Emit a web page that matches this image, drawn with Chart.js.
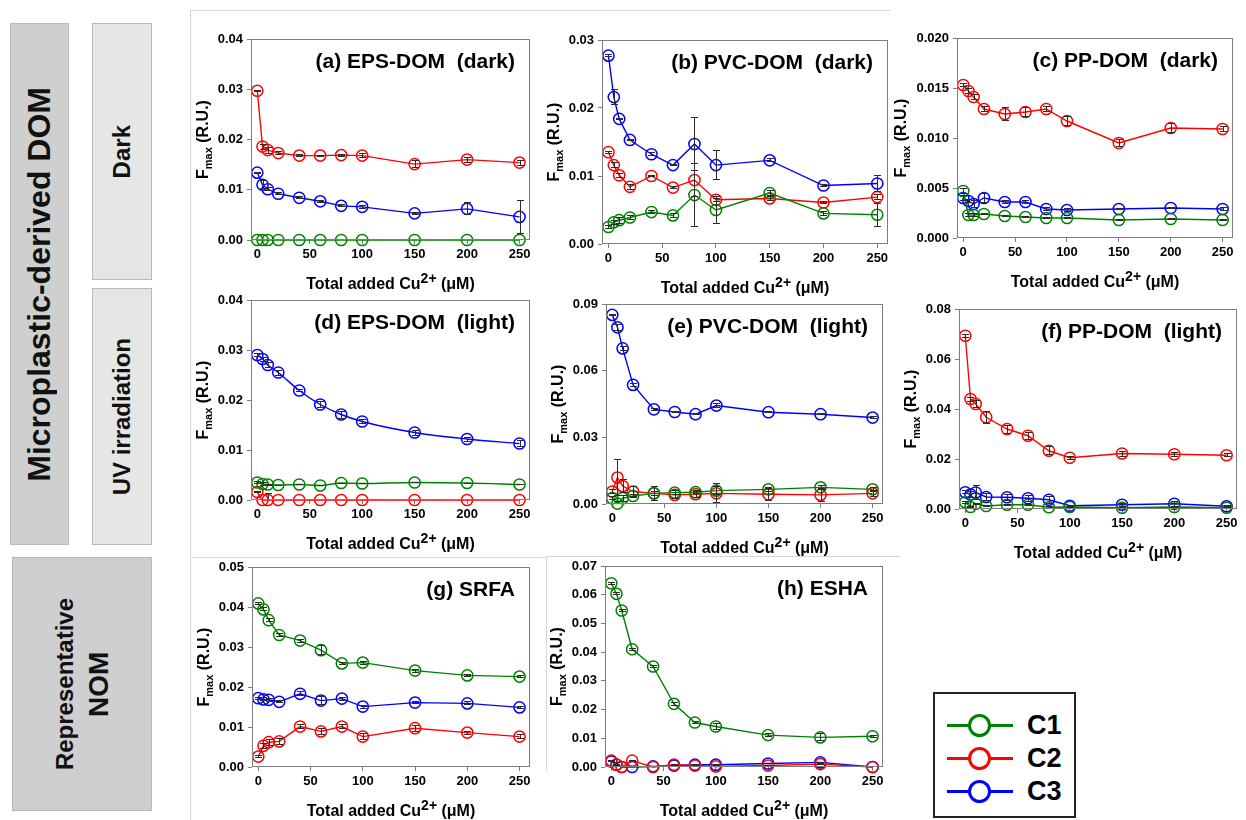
<!DOCTYPE html>
<html>
<head>
<meta charset="utf-8">
<title>Cu2+ quenching of PARAFAC components</title>
<script src="https://cdn.jsdelivr.net/npm/chart.js@4.4.0/dist/chart.umd.min.js"></script>
<style>
  body {
    margin: 0;
    width: 1246px;
    height: 820px;
    background: #fff;
    position: relative;
    overflow: hidden;
    font-family: "Liberation Sans", Arial, sans-serif;
  }
  canvas.panel { position: absolute; }
  .rule { position: absolute; background: #d6d6d6; }
  .box {
    position: absolute;
    box-sizing: border-box;
    border: 1px solid #b9b9b9;
    display: flex;
    align-items: center;
    justify-content: center;
  }
  .box > span {
    writing-mode: vertical-rl;
    transform: rotate(180deg);
    font-weight: bold;
    color: #111;
    text-align: center;
    white-space: nowrap;
  }
  .dark-box { background: #d0cfcf; }
  .light-box { background: #e6e6e6; }
  #legend {
    position: absolute;
    left: 933px;
    top: 692px;
    width: 143px;
    height: 126px;
    box-sizing: border-box;
    border: 2px solid #222;
    background: #fff;
  }
  .item { position: absolute; left: 0; width: 140px; height: 30px; }
  .item .ln { position: absolute; left: 12px; top: 14px; width: 66px; height: 3px; }
  .item .mk {
    position: absolute; left: 33px; top: 4px;
    width: 23px; height: 23px; box-sizing: border-box;
    border: 3px solid; border-radius: 50%;
  }
  .item .tx {
    position: absolute; left: 92px; top: 0; line-height: 30px;
    font-size: 27px; font-weight: bold; color: #000;
  }
</style>
</head>
<body>

<div class="rule" style="left:190px; top:10px; width:700px; height:1px"></div>
<div class="rule" style="left:190px; top:10px; width:1px; height:810px"></div>
<div class="rule" style="left:190px; top:557px; width:356px; height:1px"></div>
<div class="rule" style="left:546px; top:556px; width:354px; height:1px"></div>
<div class="rule" style="left:546px; top:556px; width:1px; height:214px"></div>

<div class="box dark-box" style="left:10px; top:23px; width:59px; height:522px">
  <span style="font-size:32px">Microplastic-derived DOM</span>
</div>
<div class="box light-box" style="left:92px; top:23px; width:60px; height:257px">
  <span style="font-size:24px">Dark</span>
</div>
<div class="box light-box" style="left:92px; top:288px; width:60px; height:257px">
  <span style="font-size:24px">UV irradiation</span>
</div>
<div class="box dark-box" style="left:12px; top:557px; width:140px; height:254px">
  <span style="font-size:24px; line-height:34px">Representative<br><b style="font-size:28px">NOM</b></span>
</div>

<div id="legend"></div>

<script>
// Cu2+ titration points (µM)
const cuAdded = [0, 5, 10, 20, 40, 60, 80, 100, 150, 200, 250];
const xTicks = [0, 50, 100, 150, 200, 250];

// (a) EPS-DOM, dark
const epsDarkC1 = [0, 0, 0, 0, 0, 0, 0, 0, 0, 0, 0];
const epsDarkC2 = [0.0297, 0.0186, 0.0179, 0.0173, 0.0168, 0.0168, 0.0169, 0.0168, 0.0151, 0.0160, 0.0154];
const epsDarkC3 = [0.0134, 0.0110, 0.0101, 0.0092, 0.0084, 0.0077, 0.0068, 0.0066, 0.0053, 0.0062, 0.0046];
const epsDarkC1Err = [0, 0, 0, 0, 0, 0, 0, 0, 0, 0, 0];
const epsDarkC2Err = [0.0002, 0.0006, 0.0007, 0.0004, 0.0003, 0.0002, 0.0003, 0.0005, 0.0008, 0.0006, 0.0006];
const epsDarkC3Err = [0.0002, 0.0009, 0.0004, 0.0003, 0.0003, 0.0003, 0.0003, 0.0004, 0.0003, 0.0013, 0.0034];
const epsDarkTicks = [0, 0.01, 0.02, 0.03, 0.04];

// (b) PVC-DOM, dark
const pvcDarkC1 = [0.0025, 0.0032, 0.0035, 0.0039, 0.0047, 0.0042, 0.0072, 0.0050, 0.0075, 0.0045, 0.0043];
const pvcDarkC2 = [0.0135, 0.0116, 0.0101, 0.0084, 0.0100, 0.0083, 0.0094, 0.0065, 0.0067, 0.0061, 0.0069];
const pvcDarkC3 = [0.0277, 0.0216, 0.0184, 0.0153, 0.0132, 0.0116, 0.0147, 0.0116, 0.0123, 0.0086, 0.0089];
const pvcDarkC1Err = [0.0003, 0.0004, 0.0005, 0.0004, 0.0003, 0.0004, 0.0047, 0.0021, 0.0004, 0.0004, 0.0018];
const pvcDarkC2Err = [0.0002, 0.0004, 0.0004, 0.0004, 0.0002, 0.0002, 0.0025, 0.0003, 0.0004, 0.0002, 0.0004];
const pvcDarkC3Err = [0.0002, 0.0012, 0.0002, 0.0002, 0.0003, 0.0002, 0.0040, 0.0022, 0.0003, 0.0002, 0.0012];
const pvcDarkTicks = [0, 0.01, 0.02, 0.03];

// (c) PP-DOM, dark
const ppDarkC1 = [0.0047, 0.0023, 0.0023, 0.0024, 0.0022, 0.0021, 0.0020, 0.0020, 0.0018, 0.0019, 0.0018];
const ppDarkC2 = [0.0153, 0.0147, 0.0141, 0.0129, 0.0124, 0.0126, 0.0129, 0.0117, 0.0095, 0.0110, 0.0109];
const ppDarkC3 = [0.0040, 0.0037, 0.0034, 0.0040, 0.0036, 0.0036, 0.0029, 0.0028, 0.0029, 0.0030, 0.0029];
const ppDarkC1Err = [0.0003, 0.0002, 0.0002, 0.0001, 0.0001, 0.0001, 0.0001, 0.0001, 0.0001, 0.0001, 0.0001];
const ppDarkC2Err = [0.0002, 0.0003, 0.0003, 0.0003, 0.0007, 0.0005, 0.0003, 0.0005, 0.0004, 0.0005, 0.0003];
const ppDarkC3Err = [0.0003, 0.0002, 0.0004, 0.0005, 0.0002, 0.0002, 0.0002, 0.0002, 0.0001, 0.0001, 0.0002];
const ppDarkTicks = [0, 0.005, 0.010, 0.015, 0.020];

// (d) EPS-DOM, UV light
const epsLightC1 = [0.0035, 0.0032, 0.0031, 0.0030, 0.0031, 0.0029, 0.0034, 0.0033, 0.0035, 0.0034, 0.0031];
const epsLightC2 = [0.0016, 0, 0, 0, 0, 0, 0, 0, 0, 0, 0];
const epsLightC3 = [0.0290, 0.0282, 0.0270, 0.0255, 0.0219, 0.0191, 0.0171, 0.0157, 0.0135, 0.0122, 0.0113];
const epsLightC1Err = [0.0003, 0.0004, 0.0002, 0.0001, 0.0001, 0.0001, 0.0001, 0.0001, 0.0001, 0.0001, 0.0001];
const epsLightC2Err = [0.0002, 0.0002, 0.0015, 0, 0, 0, 0, 0, 0, 0, 0];
const epsLightC3Err = [0.0004, 0.0005, 0.0006, 0.0006, 0.0003, 0.0007, 0.0008, 0.0005, 0.0006, 0.0005, 0.0007];
const epsLightTicks = [0, 0.01, 0.02, 0.03, 0.04];

// (e) PVC-DOM, UV light
const pvcLightC1 = [0.0026, 0.0002, 0.0026, 0.0036, 0.0048, 0.0051, 0.0053, 0.0060, 0.0066, 0.0075, 0.0066];
const pvcLightC2 = [0.0056, 0.0119, 0.0081, 0.0056, 0.0048, 0.0041, 0.0044, 0.0048, 0.0044, 0.0041, 0.0048];
const pvcLightC3 = [0.0851, 0.0795, 0.0700, 0.0536, 0.0426, 0.0414, 0.0404, 0.0443, 0.0413, 0.0404, 0.0389];
const pvcLightC1Err = [0.0010, 0.0010, 0.0015, 0.0010, 0.0010, 0.0010, 0.0008, 0.0020, 0.0010, 0.0010, 0.0010];
const pvcLightC2Err = [0.0010, 0.0082, 0.0030, 0.0025, 0.0035, 0.0020, 0.0015, 0.0045, 0.0030, 0.0030, 0.0015];
const pvcLightC3Err = [0.0005, 0.0015, 0.0010, 0.0010, 0.0008, 0.0005, 0.0005, 0.0012, 0.0005, 0.0005, 0.0005];
const pvcLightTicks = [0, 0.03, 0.06, 0.09];

// (f) PP-DOM, UV light
const ppLightC1 = [0.0027, 0.0008, 0.0021, 0.0012, 0.0017, 0.0017, 0.0007, 0.0008, 0.0005, 0.0008, 0.0005];
const ppLightC2 = [0.0693, 0.0440, 0.0420, 0.0367, 0.0320, 0.0293, 0.0233, 0.0205, 0.0222, 0.0219, 0.0215];
const ppLightC3 = [0.0067, 0.0058, 0.0066, 0.0048, 0.0047, 0.0043, 0.0037, 0.0013, 0.0017, 0.0021, 0.0011];
const ppLightC1Err = [0.0005, 0.0005, 0.0005, 0.0005, 0.0005, 0.0005, 0.0005, 0.0005, 0.0005, 0.0005, 0.0005];
const ppLightC2Err = [0.0008, 0.0010, 0.0015, 0.0025, 0.0018, 0.0015, 0.0018, 0.0008, 0.0012, 0.0010, 0.0008];
const ppLightC3Err = [0.0008, 0.0015, 0.0030, 0.0015, 0.0015, 0.0015, 0.0015, 0.0005, 0.0008, 0.0012, 0.0004];
const ppLightTicks = [0, 0.02, 0.04, 0.06, 0.08];

// (g) SRFA
const srfaC1 = [0.0409, 0.0394, 0.0367, 0.0330, 0.0316, 0.0292, 0.0259, 0.0261, 0.0241, 0.0229, 0.0226];
const srfaC2 = [0.0026, 0.0053, 0.0062, 0.0064, 0.0101, 0.0089, 0.0101, 0.0076, 0.0097, 0.0086, 0.0076];
const srfaC3 = [0.0172, 0.0169, 0.0168, 0.0163, 0.0183, 0.0166, 0.0171, 0.0151, 0.0161, 0.0159, 0.0149];
const srfaC1Err = [0.0004, 0.0005, 0.0005, 0.0005, 0.0005, 0.0012, 0.0004, 0.0005, 0.0005, 0.0003, 0.0004];
const srfaC2Err = [0.0003, 0.0008, 0.0009, 0.0009, 0.0007, 0.0008, 0.0006, 0.0009, 0.0009, 0.0005, 0.0006];
const srfaC3Err = [0.0004, 0.0005, 0.0005, 0.0004, 0.0006, 0.0012, 0.0005, 0.0005, 0.0004, 0.0005, 0.0004];
const srfaTicks = [0, 0.01, 0.02, 0.03, 0.04, 0.05];

// (h) ESHA
const eshaC1 = [0.0640, 0.0603, 0.0545, 0.0410, 0.0350, 0.0220, 0.0155, 0.0141, 0.0111, 0.0103, 0.0107];
const eshaC2 = [0.0022, 0.0008, 0.0000, 0.0022, 0.0000, 0.0008, 0.0005, 0.0002, 0.0005, 0.0010, 0.0000];
const eshaC3 = [0.0019, 0.0008, 0.0000, 0.0000, 0.0002, 0.0005, 0.0008, 0.0008, 0.0012, 0.0016, 0.0000];
const eshaC1Err = [0.0005, 0.0005, 0.0006, 0.0005, 0.0006, 0.0006, 0.0005, 0.0012, 0.0006, 0.0014, 0.0005];
const eshaC2Err = [0.0003, 0.0008, 0.0003, 0.0003, 0.0002, 0.0003, 0.0003, 0.0003, 0.0003, 0.0003, 0.0002];
const eshaC3Err = [0.0003, 0.0003, 0.0002, 0.0002, 0.0002, 0.0003, 0.0003, 0.0003, 0.0003, 0.0003, 0.0002];
const eshaTicks = [0, 0.01, 0.02, 0.03, 0.04, 0.05, 0.06, 0.07];

const seriesNames = ["C1", "C2", "C3"];
const seriesColors = ["#008000", "#ff0000", "#0000ff"];

Chart.defaults.font.family = "'Liberation Sans', Arial, sans-serif";

// plot area of each panel on the page: [left, top, right, bottom]
const panels = [
  { title: "(a) EPS-DOM  (dark)", ticks: epsDarkTicks, digits: 2, series: [epsDarkC1, epsDarkC2, epsDarkC3], errors: [epsDarkC1Err, epsDarkC2Err, epsDarkC3Err], area: [251, 39, 530, 240] },
  { title: "(b) PVC-DOM  (dark)", ticks: pvcDarkTicks, digits: 2, series: [pvcDarkC1, pvcDarkC2, pvcDarkC3], errors: [pvcDarkC1Err, pvcDarkC2Err, pvcDarkC3Err], area: [602, 40, 888, 244] },
  { title: "(c) PP-DOM  (dark)", ticks: ppDarkTicks, digits: 3, series: [ppDarkC1, ppDarkC2, ppDarkC3], errors: [ppDarkC1Err, ppDarkC2Err, ppDarkC3Err], area: [957, 38, 1233, 238] },
  { title: "(d) EPS-DOM  (light)", ticks: epsLightTicks, digits: 2, series: [epsLightC1, epsLightC2, epsLightC3], errors: [epsLightC1Err, epsLightC2Err, epsLightC3Err], area: [251, 300, 530, 500], smooth: true },
  { title: "(e) PVC-DOM  (light)", ticks: pvcLightTicks, digits: 2, series: [pvcLightC1, pvcLightC2, pvcLightC3], errors: [pvcLightC1Err, pvcLightC2Err, pvcLightC3Err], area: [606, 304, 883, 504] },
  { title: "(f) PP-DOM  (light)", ticks: ppLightTicks, digits: 2, series: [ppLightC1, ppLightC2, ppLightC3], errors: [ppLightC1Err, ppLightC2Err, ppLightC3Err], area: [959, 309, 1237, 509] },
  { title: "(g) SRFA", ticks: srfaTicks, digits: 2, series: [srfaC1, srfaC2, srfaC3], errors: [srfaC1Err, srfaC2Err, srfaC3Err], area: [252, 567, 530, 767] },
  { title: "(h) ESHA", ticks: eshaTicks, digits: 2, series: [eshaC1, eshaC2, eshaC3], errors: [eshaC1Err, eshaC2Err, eshaC3Err], area: [605, 566, 883, 767] }
];

const PAD_L = 74, PAD_T = 14, PAD_R = 12, PAD_B = 60;

// error bars, plot frame, panel title and axis titles
const panelDecor = {
  id: "panelDecor",
  afterDatasetsDraw(chart) {
    const ctx = chart.ctx;
    const y = chart.scales.y;
    ctx.save();
    ctx.strokeStyle = "#2b2b2b";
    ctx.lineWidth = 1;
    chart.data.datasets.forEach((ds, i) => {
      chart.getDatasetMeta(i).data.forEach((pt, j) => {
        const e = ds.errors[j];
        if (!e) return;
        const v = ds.data[j].y;
        const top = Math.round(y.getPixelForValue(v + e));
        const bot = Math.round(y.getPixelForValue(Math.max(0, v - e)));
        const x = Math.round(pt.x) + 0.5;
        ctx.beginPath();
        ctx.moveTo(x, top);
        ctx.lineTo(x, bot);
        ctx.moveTo(x - 3.5, top + 0.5);
        ctx.lineTo(x + 3.5, top + 0.5);
        ctx.moveTo(x - 3.5, bot - 0.5);
        ctx.lineTo(x + 3.5, bot - 0.5);
        ctx.stroke();
      });
    });
    ctx.restore();
  },
  afterDraw(chart, args, opts) {
    const ctx = chart.ctx;
    const a = chart.chartArea;
    ctx.save();

    ctx.strokeStyle = "#7d7d7d";
    ctx.lineWidth = 1;
    ctx.strokeRect(Math.round(a.left) + 0.5, Math.round(a.top) + 0.5,
      Math.round(a.right - a.left) - 1, Math.round(a.bottom - a.top) - 1);

    ctx.fillStyle = "#000";
    ctx.font = "bold 21px 'Liberation Sans', Arial";
    ctx.textAlign = "right";
    ctx.textBaseline = "middle";
    ctx.fillText(opts.title, a.right - 15, a.top + 23);

    // y title: F with subscript "max"
    ctx.font = "bold 13px 'Liberation Sans', Arial";
    let labelW = 0;
    opts.ticks.forEach(t => {
      labelW = Math.max(labelW, ctx.measureText(t.toFixed(opts.digits)).width);
    });
    const cx = a.left - 8 - labelW - 16;
    const cy = (a.top + a.bottom) / 2;
    const big = "bold 16px 'Liberation Sans', Arial";
    const small = "bold 11px 'Liberation Sans', Arial";
    ctx.font = big;
    const wF = ctx.measureText("F").width;
    const wRest = ctx.measureText(" (R.U.)").width;
    ctx.font = small;
    const wSub = ctx.measureText("max").width;
    const total = wF + wSub + wRest;
    ctx.translate(cx, cy);
    ctx.rotate(-Math.PI / 2);
    ctx.textAlign = "left";
    ctx.textBaseline = "alphabetic";
    let px = -total / 2;
    ctx.font = big;
    ctx.fillText("F", px, 6);
    px += wF;
    ctx.font = small;
    ctx.fillText("max", px, 10);
    px += wSub;
    ctx.font = big;
    ctx.fillText(" (R.U.)", px, 6);
    ctx.setTransform(1, 0, 0, 1, 0, 0);

    // x title: Cu with superscript "2+"
    const sup = "bold 14px 'Liberation Sans', Arial";
    ctx.font = big;
    const w1 = ctx.measureText("Total added Cu").width;
    const w3 = ctx.measureText(" (\u03bcM)").width;
    ctx.font = sup;
    const w2 = ctx.measureText("2+").width;
    const base = a.bottom + 49;
    let sx = (a.left + a.right) / 2 - (w1 + w2 + w3) / 2;
    ctx.font = big;
    ctx.fillText("Total added Cu", sx, base);
    sx += w1;
    ctx.font = sup;
    ctx.fillText("2+", sx, base - 6);
    sx += w2;
    ctx.font = big;
    ctx.fillText(" (\u03bcM)", sx, base);
    ctx.restore();
  }
};

function makePanel(p) {
  const [L, T, R, B] = p.area;
  const canvas = document.createElement("canvas");
  canvas.className = "panel";
  canvas.width = R - L + PAD_L + PAD_R;
  canvas.height = B - T + PAD_T + PAD_B;
  canvas.style.left = (L - PAD_L) + "px";
  canvas.style.top = (T - PAD_T) + "px";
  document.body.appendChild(canvas);

  const datasets = p.series.map((vals, i) => ({
    label: seriesNames[i],
    data: cuAdded.map((x, j) => ({ x: x, y: vals[j] })),
    errors: p.errors[i],
    borderColor: seriesColors[i],
    borderWidth: 1.4,
    pointStyle: "circle",
    pointRadius: 5.6,
    pointBorderWidth: 1.5,
    pointBorderColor: seriesColors[i],
    pointBackgroundColor: "rgba(0,0,0,0)",
    cubicInterpolationMode: p.smooth ? "monotone" : "default",
    tension: 0,
    clip: false
  }));

  const gridStyle = {
    drawOnChartArea: false,
    drawTicks: true,
    tickLength: 4,
    color: "#7d7d7d",
    tickColor: "#7d7d7d"
  };

  new Chart(canvas, {
    type: "line",
    data: { datasets: datasets },
    options: {
      responsive: false,
      animation: false,
      events: [],
      layout: { padding: { left: 0, top: PAD_T, right: PAD_R, bottom: 0 } },
      plugins: {
        legend: { display: false },
        tooltip: { enabled: false },
        panelDecor: { title: p.title, ticks: p.ticks, digits: p.digits }
      },
      scales: {
        x: {
          type: "linear",
          min: -6,
          max: 260,
          afterFit: s => { s.height = PAD_B; },
          afterBuildTicks: s => { s.ticks = xTicks.map(v => ({ value: v })); },
          grid: gridStyle,
          border: { display: false },
          ticks: {
            color: "#000",
            padding: 3,
            maxRotation: 0,
            autoSkip: false,
            font: { size: 13, weight: "bold" }
          }
        },
        y: {
          type: "linear",
          min: 0,
          max: p.ticks[p.ticks.length - 1],
          afterFit: s => { s.width = PAD_L; },
          afterBuildTicks: s => { s.ticks = p.ticks.map(v => ({ value: v })); },
          grid: gridStyle,
          border: { display: false },
          ticks: {
            color: "#000",
            padding: 4,
            autoSkip: false,
            font: { size: 13, weight: "bold" },
            callback: v => Number(v).toFixed(p.digits)
          }
        }
      }
    },
    plugins: [panelDecor]
  });
}

panels.forEach(makePanel);

// shared legend
const legend = document.getElementById("legend");
seriesNames.forEach((name, i) => {
  const item = document.createElement("div");
  item.className = "item";
  item.style.top = (16 + i * 33) + "px";
  item.innerHTML =
    '<div class="ln" style="background:' + seriesColors[i] + '"></div>' +
    '<div class="mk" style="border-color:' + seriesColors[i] + '; background:#fff"></div>' +
    '<div class="tx">' + name + '</div>';
  legend.appendChild(item);
});
</script>
</body>
</html>
